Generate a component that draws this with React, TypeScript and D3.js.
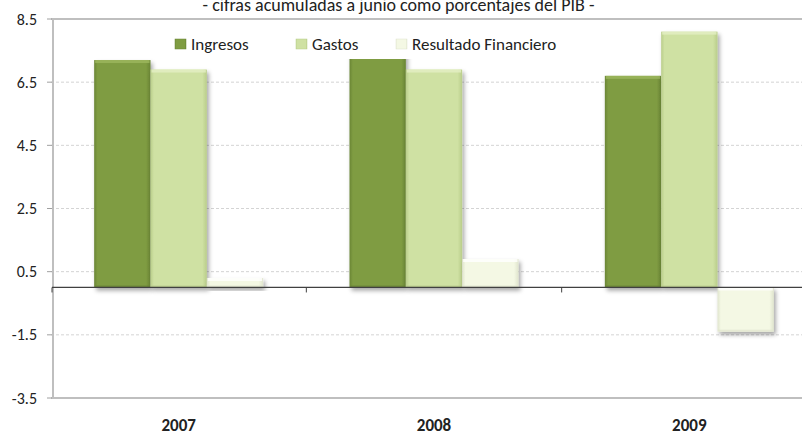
import React from "react";
import * as d3 from "d3";

const years = ["2007", "2008", "2009"];
const series = ["Ingresos", "Gastos", "Resultado Financiero"];
const ingresos = [7.2, 7.8, 6.7];
const gastos = [6.9, 6.9, 8.1];
const resultado = [0.3, 0.9, -1.4];
const yTicks = [-3.5, -1.5, 0.5, 2.5, 4.5, 6.5, 8.5];
const title = "- cifras acumuladas a junio como porcentajes del PIB -";

const colors: Record<string, { base: string; dark: string; light: string }> = {
  Ingresos: { base: "#7f9c42", dark: "#6a8535", light: "#9db85f" },
  Gastos: { base: "#cfe1a3", dark: "#b9cd8a", light: "#e4efc4" },
  "Resultado Financiero": { base: "#f4f8e4", dark: "#dfe4cd", light: "#ffffff" },
};

const W = 802;
const H = 432;
const plotLeft = 51;
const plotTop = 19;
const plotBottom = 398;

export default function App() {
  const y = d3.scaleLinear().domain([-3.5, 8.5]).range([plotBottom, plotTop]);
  const x0 = d3.scaleBand<string>().domain(years).range([plotLeft, 817]).padding(0);
  const groupW = 169;
  const x1 = d3
    .scaleBand<string>()
    .domain(series)
    .range([(x0.bandwidth() - groupW) / 2, (x0.bandwidth() + groupW) / 2])
    .padding(0);
  const values: Record<string, number[]> = {
    Ingresos: ingresos,
    Gastos: gastos,
    "Resultado Financiero": resultado,
  };
  const font = "Carlito, Calibri, 'Noto Sans', sans-serif";
  const zero = y(0);
  const boundaries = years.slice(1).map((yr) => x0(yr)!);

  return (
    <svg width={W} height={H} style={{ position: "absolute", left: 0, top: 0 }} fontFamily={font}>
      <defs>
        <filter id="shadow" x="-20%" y="-20%" width="150%" height="150%">
          <feDropShadow dx="2" dy="3" stdDeviation="2" floodColor="#000" floodOpacity="0.35" />
        </filter>
        {series.map((s, i) => (
          <linearGradient key={s} id={`g${i}`} x1="0" x2="1" y1="0" y2="0">
            <stop offset="0" stopColor={colors[s].dark} />
            <stop offset="0.06" stopColor={colors[s].base} />
            <stop offset="0.92" stopColor={colors[s].base} />
            <stop offset="1" stopColor={colors[s].dark} />
          </linearGradient>
        ))}
      </defs>
      <rect x={0} y={0} width={W} height={H} fill="#fff" />
      <text x={398.5} y={11} textAnchor="middle" fontSize={18} fill="#222">
        {title}
      </text>
      {/* gridlines */}
      {yTicks.filter((t) => t !== 8.5 && t !== -3.5).map((t) => (
        <line key={t} x1={plotLeft} x2={W} y1={y(t)} y2={y(t)} stroke="#d4d4d4" strokeDasharray="3,2" strokeWidth={1} />
      ))}
      {/* plot border */}
      <line x1={plotLeft} x2={W} y1={plotTop} y2={plotTop} stroke="#bfbfbf" strokeWidth={2} />
      <line x1={plotLeft} x2={W} y1={plotBottom} y2={plotBottom} stroke="#bfbfbf" strokeWidth={2} />
      <line x1={plotLeft + 2} x2={plotLeft + 2} y1={plotTop} y2={plotBottom} stroke="#bfbfbf" strokeWidth={2} />
      {/* y ticks and labels */}
      {yTicks.map((t) => (
        <g key={t}>
          <line x1={plotLeft - 4} x2={plotLeft + 1} y1={y(t)} y2={y(t)} stroke="#a0a0a0" />
          <text x={37} y={y(t)} dy="0.35em" textAnchor="end" fontSize={16} fill="#222">
            {t.toFixed(1)}
          </text>
        </g>
      ))}
      {/* bars */}
      {years.map((yr, ci) => (
        <g key={yr} transform={`translate(${x0(yr)},0)`}>
          {series.map((s, si) => {
            const v = values[s][ci];
            const top = Math.min(y(v), zero);
            const h = Math.abs(y(v) - zero);
            const bx = x1(s)!;
            const bw = x1.bandwidth();
            return (
              <g key={s} filter="url(#shadow)">
                <rect x={bx} y={top} width={bw} height={h} fill={`url(#g${si})`} />
                <rect x={bx + 1} y={top} width={bw - 2} height={Math.min(3, h)} fill={colors[s].light} opacity={0.8} />
                <rect x={bx + 1} y={top + h - 2} width={bw - 2} height={2} fill={colors[s].dark} opacity={0.7} />
              </g>
            );
          })}
        </g>
      ))}
      {/* zero axis */}
      <line x1={plotLeft + 1} x2={W} y1={zero} y2={zero} stroke="#404040" strokeWidth={1.2} />
      <line x1={plotLeft + 1} x2={plotLeft + 1} y1={zero} y2={zero + 5} stroke="#404040" />
      {boundaries.map((b) => (
        <line key={b} x1={b} x2={b} y1={zero} y2={zero + 5} stroke="#404040" />
      ))}
      {/* x labels */}
      {years.map((yr) => (
        <text key={yr} x={x0(yr)! + x0.bandwidth() / 2} y={431} textAnchor="middle" fontSize={17} fontWeight="bold" fill="#222">
          {yr}
        </text>
      ))}
      {/* legend */}
      <rect x={166} y={28} width={400} height={31} fill="#fff" />
      {series.map((s, i) => {
        const lx = [175, 296, 396][i];
        return (
          <g key={s} transform={`translate(${lx},${44})`}>
            <rect x={0} y={-5} width={11} height={10} fill={`url(#g${i})`} stroke={colors[s].dark} strokeWidth={0.5} />
            <text x={16} y={0} dy="0.35em" fontSize={17} fill="#222">
              {s}
            </text>
          </g>
        );
      })}
    </svg>
  );
}
